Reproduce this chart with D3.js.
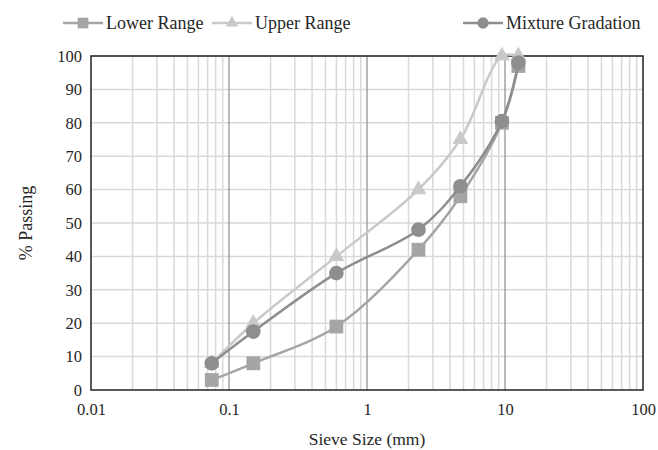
<!DOCTYPE html>
<html lang="en">
<head>
<meta charset="utf-8">
<title>Gradation</title>
<script src="https://d3js.org/d3.v7.min.js"></script>
</head>
<body style="margin:0;background:#fff">
<script>
// sieve sizes (mm) and % passing
var sieves = [0.075, 0.15, 0.6, 2.36, 4.75, 9.5, 12.5];
var lowerRange = [3, 8, 19, 42, 58, 80, 97];
var upperRange = [8, 20, 40, 60, 75, 100, 100];
var mixture = [8, 17.5, 35, 48, 61, 80.5, 98];
var yTicks = [0, 10, 20, 30, 40, 50, 60, 70, 80, 90, 100];
var xTicks = [0.01, 0.1, 1, 10, 100];

var series = [
  { name: "Lower Range", values: lowerRange, color: "#a5a5a5", shape: d3.symbolSquare, size: 190 },
  { name: "Upper Range", values: upperRange, color: "#c9c9c9", shape: d3.symbolTriangle, size: 110 },
  { name: "Mixture Gradation", values: mixture, color: "#8e8e8e", shape: d3.symbolCircle, size: 170 }
];

var W = 658, H = 450;
var m = { left: 91, right: 15, top: 56, bottom: 60 };
var FONT = "'Liberation Serif'";

var svg = d3.select("body").append("svg")
  .attr("width", W)
  .attr("height", H);

var x = d3.scaleLog().domain([0.01, 100]).range([m.left, W - m.right]);
var y = d3.scaleLinear().domain([0, 100]).range([H - m.bottom, m.top]);

// minor vertical grid
var minor = [];
[0.01, 0.1, 1, 10].forEach(function(d) {
  for (var k = 2; k <= 9; k++) minor.push(d * k);
});
svg.append("g").selectAll("line").data(minor).enter().append("line")
  .attr("x1", function(d) { return x(d); }).attr("x2", function(d) { return x(d); })
  .attr("y1", y(0)).attr("y2", y(100))
  .attr("stroke", "#d9d9d9").attr("stroke-width", 1.5);

// horizontal grid
svg.append("g").selectAll("line").data(yTicks.slice(1)).enter().append("line")
  .attr("x1", x(0.01)).attr("x2", x(100))
  .attr("y1", function(d) { return y(d); }).attr("y2", function(d) { return y(d); })
  .attr("stroke", "#d9d9d9").attr("stroke-width", 1.5);

// major vertical grid
svg.append("g").selectAll("line").data([0.1, 1, 10]).enter().append("line")
  .attr("x1", function(d) { return x(d); }).attr("x2", function(d) { return x(d); })
  .attr("y1", y(0)).attr("y2", y(100))
  .attr("stroke", "#8c8c8c").attr("stroke-width", 1.2);

// border
svg.append("rect")
  .attr("x", x(0.01)).attr("y", y(100))
  .attr("width", x(100) - x(0.01)).attr("height", y(0) - y(100))
  .attr("fill", "none").attr("stroke", "#222").attr("stroke-width", 1.5);

// axes
var xAxis = svg.append("g")
  .attr("transform", "translate(0," + y(0) + ")")
  .call(d3.axisBottom(x).tickValues(xTicks).tickSize(0).tickPadding(13)
    .tickFormat(function(d) { return String(d); }));
xAxis.select(".domain").remove();
xAxis.selectAll("text").style("font-family", FONT, "important").style("font-size", "16.5px").attr("fill", "#262626");

var yAxis = svg.append("g")
  .attr("transform", "translate(" + x(0.01) + ",0)")
  .call(d3.axisLeft(y).tickValues(yTicks).tickSize(0).tickPadding(9));
yAxis.select(".domain").remove();
yAxis.selectAll("text").style("font-family", FONT, "important").style("font-size", "16.5px").attr("fill", "#262626");

// axis titles
svg.append("text")
  .attr("x", (x(0.01) + x(100)) / 2).attr("y", 445)
  .attr("text-anchor", "middle")
  .style("font-family", FONT, "important").style("font-size", "17.5px").attr("fill", "#262626")
  .text("Sieve Size (mm)");
svg.append("text")
  .attr("transform", "translate(32," + y(50) + ") rotate(-90)")
  .attr("text-anchor", "middle")
  .style("font-family", FONT, "important").style("font-size", "18px").attr("fill", "#262626")
  .text("% Passing");

// lines
var line = d3.line()
  .x(function(d) { return x(d[0]); })
  .y(function(d) { return y(d[1]); })
  .curve(d3.curveCatmullRom.alpha(0.5));

series.forEach(function(s) {
  var pts = sieves.map(function(v, i) { return [v, s.values[i]]; });
  var g = svg.append("g");
  g.append("path").datum(pts)
    .attr("d", line)
    .attr("fill", "none").attr("stroke", s.color).attr("stroke-width", 2.5);
  g.selectAll("path.pt").data(pts).enter().append("path")
    .attr("class", "pt")
    .attr("transform", function(d) { return "translate(" + x(d[0]) + "," + y(d[1]) + ")"; })
    .attr("d", d3.symbol().type(s.shape).size(s.size)())
    .attr("fill", s.color);
});

// legend
var legX = [63, 212, 463];
series.forEach(function(s, i) {
  var g = svg.append("g").attr("transform", "translate(" + legX[i] + ",23)");
  g.append("line").attr("x1", 0).attr("x2", 40).attr("y1", 0).attr("y2", 0)
    .attr("stroke", s.color).attr("stroke-width", 2.5);
  g.append("path").attr("transform", "translate(20,0)")
    .attr("d", d3.symbol().type(s.shape).size(s.size * 0.6)())
    .attr("fill", s.color);
  g.append("text").attr("x", 43).attr("y", 6)
    .style("font-family", FONT, "important").style("font-size", "18px").attr("fill", "#262626")
    .text(s.name);
});
</script>
</body>
</html>
